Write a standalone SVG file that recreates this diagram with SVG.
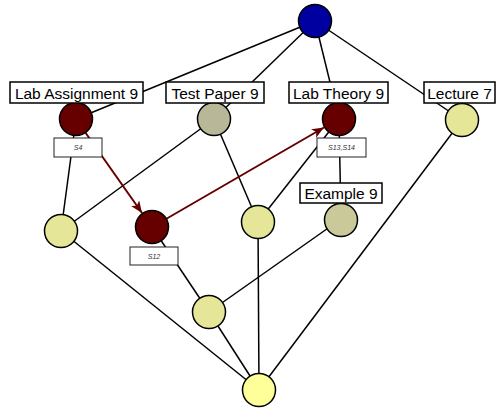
<svg xmlns="http://www.w3.org/2000/svg" width="496" height="408" viewBox="0 0 496 408">
<style>
.e{stroke:#000;stroke-width:1.5;fill:none}
.a{stroke:#660000;stroke-width:2;fill:none}
.n{stroke:#000;stroke-width:1.5}
.lb{fill:#fff;stroke:#000;stroke-width:1.5}
.t{font-family:"Liberation Sans",Arial,sans-serif;font-size:15.5px;text-anchor:middle;fill:#000}
.sb{fill:#fff;stroke:#222;stroke-width:1}
.s{font-family:"Liberation Sans",Arial,sans-serif;font-size:7px;font-style:italic;text-anchor:middle;fill:#333}
</style>
<defs>
<marker id="ah" viewBox="0 0 12 10" refX="12" refY="5" markerWidth="12" markerHeight="10" markerUnits="userSpaceOnUse" orient="auto">
<path d="M0,0 L12,5 L0,10 L3,5 Z" fill="#660000"/>
</marker>
</defs>
<rect width="496" height="408" fill="#fff"/>
<g id="connectors">
<line class="e" x1="315" y1="21" x2="76" y2="119"/>
<line class="e" x1="315" y1="21" x2="214" y2="119"/>
<line class="e" x1="315" y1="21" x2="339" y2="119"/>
<line class="e" x1="315" y1="21" x2="462" y2="120"/>
<line class="e" x1="76" y1="119" x2="61" y2="231"/>
<line class="e" x1="214" y1="119" x2="61" y2="231"/>
<line class="e" x1="214" y1="119" x2="258" y2="222"/>
<line class="e" x1="339" y1="119" x2="258" y2="222"/>
<line class="e" x1="339" y1="119" x2="341" y2="219"/>
<line class="e" x1="462" y1="120" x2="259" y2="390"/>
<line class="e" x1="61" y1="231" x2="259" y2="390"/>
<line class="e" x1="152" y1="227" x2="209" y2="312"/>
<line class="e" x1="258" y1="222" x2="259" y2="390"/>
<line class="e" x1="341" y1="219" x2="209" y2="312"/>
<line class="e" x1="209" y1="312" x2="259" y2="390"/>
<line class="a" x1="85" y1="132" x2="142" y2="213" marker-end="url(#ah)"/>
<line class="a" x1="166" y1="219" x2="324" y2="127.5" marker-end="url(#ah)"/>
</g>
<g id="top"><circle class="n" cx="315" cy="21" r="16.5" fill="#0000a0"/></g>
<g id="lab-assignment-9">
<circle class="n" cx="76" cy="119" r="16.5" fill="#660000"/>
<rect class="lb" x="10" y="82" width="133" height="21"/>
<text class="t" x="76.5" y="98.5">Lab Assignment 9</text>
<rect class="sb" x="54" y="138" width="48" height="19"/>
<text class="s" x="78" y="150">S4</text>
</g>
<g id="test-paper-9">
<circle class="n" cx="214" cy="119" r="16.5" fill="#b8b898"/>
<rect class="lb" x="166" y="82" width="98" height="21"/>
<text class="t" x="215" y="98.5">Test Paper 9</text>
</g>
<g id="lab-theory-9">
<circle class="n" cx="339" cy="119" r="16.5" fill="#660000"/>
<rect class="lb" x="289" y="82" width="99" height="21"/>
<text class="t" x="338.5" y="98.5">Lab Theory 9</text>
<rect class="sb" x="317" y="138" width="49" height="19"/>
<text class="s" x="341.5" y="150">S13,S14</text>
</g>
<g id="lecture-7">
<circle class="n" cx="462" cy="120" r="16.5" fill="#e6e699"/>
<rect class="lb" x="424" y="82" width="71" height="21"/>
<text class="t" x="459.5" y="98.5">Lecture 7</text>
</g>
<g id="left-mid"><circle class="n" cx="61" cy="231" r="16.5" fill="#e6e699"/></g>
<g id="s12-node">
<circle class="n" cx="152" cy="227" r="16.5" fill="#660000"/>
<rect class="sb" x="130" y="247" width="48" height="18"/>
<text class="s" x="154" y="258.5">S12</text>
</g>
<g id="mid"><circle class="n" cx="258" cy="222" r="16.5" fill="#e6e699"/></g>
<g id="example-9">
<circle class="n" cx="341" cy="220" r="16.5" fill="#c9c999"/>
<rect class="lb" x="300" y="183" width="82" height="20"/>
<text class="t" x="341" y="199">Example 9</text>
</g>
<g id="lower"><circle class="n" cx="209" cy="312" r="16.5" fill="#e6e699"/></g>
<g id="bottom"><circle class="n" cx="259" cy="390" r="16.5" fill="#ffff99"/></g>
</svg>
